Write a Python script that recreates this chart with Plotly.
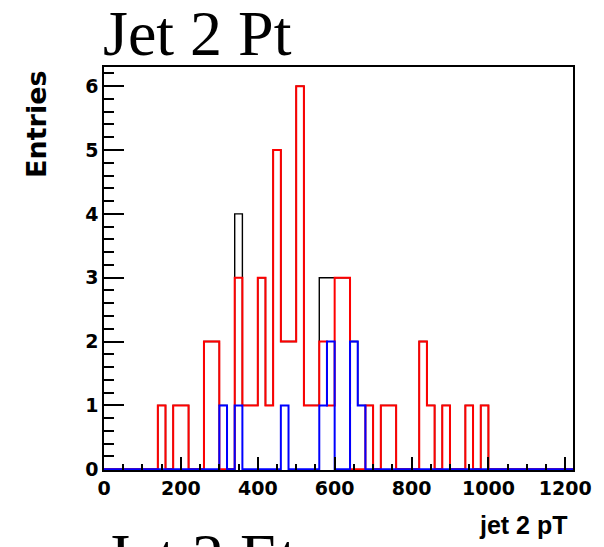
import plotly.graph_objects as go

# ---- data (bins of width 20 from 0 to 1220) ----
bin_start = 0
bin_width = 20
n_bins = 61

# sparse histogram contents: lower bin edge -> entries
red_lo = [140, 180, 200, 260, 280, 340, 360, 380, 400, 420, 440, 460, 480, 500,
          520, 540, 560, 580, 600, 620, 680, 720, 740, 820, 840, 880, 940, 980]
red_n = [1, 1, 1, 2, 2, 3, 1, 1, 3, 1, 5, 2, 2, 6,
         1, 1, 2, 1, 3, 3, 1, 1, 1, 2, 1, 1, 1, 1]

black_lo = [140, 180, 200, 260, 280, 300, 340, 360, 380, 400, 420, 440, 460, 480, 500,
            520, 540, 560, 580, 600, 620, 640, 660, 680, 720, 740, 820, 840, 880, 940, 980]
black_n = [1, 1, 1, 2, 2, 1, 4, 1, 1, 3, 1, 5, 2, 2, 6,
           1, 1, 3, 3, 3, 3, 2, 1, 1, 1, 1, 2, 1, 1, 1, 1]

blue_lo = [300, 340, 460, 560, 580, 640, 660]
blue_n = [1, 1, 1, 1, 2, 2, 1]

x_ticks = [0, 200, 400, 600, 800, 1000, 1200]
y_ticks = [0, 1, 2, 3, 4, 5, 6]

title_top = "Jet 2 Pt"
title_next = "Jet 2 Et"
x_title = "jet 2 pT"
y_title = "Entries"


def fill(lo, n):
    vals = [0] * n_bins
    for l, v in zip(lo, n):
        vals[(l - bin_start) // bin_width] = v
    return vals


edges = [bin_start + i * bin_width for i in range(n_bins + 1)]


def step_trace(vals, color, width):
    return go.Scatter(
        x=edges, y=vals + [vals[-1]], mode="lines", line_shape="hv",
        line=dict(color=color, width=width), hoverinfo="skip", showlegend=False,
    )


fig = go.Figure()
fig.add_trace(step_trace(fill(black_lo, black_n), "#000000", 1.4))
fig.add_trace(step_trace(fill(red_lo, red_n), "#ff0000", 2))
fig.add_trace(step_trace(fill(blue_lo, blue_n), "#0000ff", 2))

tick_font = dict(family="DejaVu Sans", size=19, color="black")

fig.update_layout(
    width=604, height=547,
    margin=dict(l=104, r=21, t=67, b=77),
    paper_bgcolor="white", plot_bgcolor="white",
    xaxis=dict(
        range=[0, 1220], showgrid=False, zeroline=False,
        showline=True, linecolor="black", linewidth=1.5, mirror=True,
        ticks="inside", ticklen=13, tickwidth=1.5, tickcolor="black",
        tickvals=x_ticks, ticktext=[f"<b>{v}</b>" for v in x_ticks],
        tickfont=tick_font,
        minor=dict(dtick=50, ticks="inside", ticklen=6.5, tickwidth=1.5, tickcolor="black"),
    ),
    yaxis=dict(
        range=[-0.012, 6.3], showgrid=False, zeroline=False,
        showline=True, linecolor="black", linewidth=1.5, mirror=True,
        ticks="inside", ticklen=20, tickwidth=1.5, tickcolor="black",
        tickvals=y_ticks, ticktext=[f"<b>{v}</b>" for v in y_ticks],
        tickfont=tick_font,
        minor=dict(dtick=0.2, ticks="inside", ticklen=10, tickwidth=1.5, tickcolor="black"),
    ),
    annotations=[
        dict(text=title_top, xref="paper", yref="paper", x=-0.006, y=0.99,
             xanchor="left", yanchor="bottom", showarrow=False,
             font=dict(family="Liberation Serif", size=64, color="black")),
        dict(text=title_next, xref="paper", yref="paper", x=-0.003, y=-0.308,
             xanchor="left", yanchor="bottom", showarrow=False,
             font=dict(family="Liberation Serif", size=64, color="black")),
        dict(text=f"<b>{x_title}</b>", xref="paper", yref="paper", x=0.994, y=-0.097,
             xanchor="right", yanchor="top", showarrow=False,
             font=dict(family="Liberation Sans", size=25, color="black")),
        dict(text=f"<b>{y_title}</b>", xref="paper", yref="paper", x=-0.145, y=0.9975,
             xanchor="center", yanchor="top", textangle=-90, showarrow=False,
             font=dict(family="DejaVu Sans", size=27, color="black")),
    ],
)

fig.write_html("out.html")
